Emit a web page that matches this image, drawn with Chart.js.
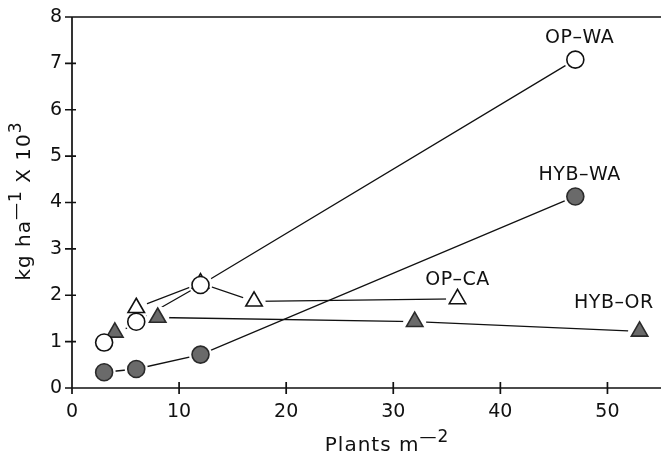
<!DOCTYPE html>
<html><head><meta charset="utf-8">
<script src="https://cdn.jsdelivr.net/npm/chart.js@4/dist/chart.umd.min.js"></script>
<style>html,body{margin:0;padding:0;background:#fff}#wrap{width:661px;height:456px}</style>
</head><body><div id="wrap"><canvas id="c" width="661" height="456"></canvas></div>
<script>
const opWaX = [3, 6, 12, 47];
const opWaY = [0.98, 1.43, 2.22, 7.08];
const hybWaX = [3, 6, 12, 47];
const hybWaY = [0.34, 0.41, 0.72, 4.13];
const opCaX = [6, 12, 17, 36];
const opCaY = [1.73, 2.26, 1.87, 1.92];
const hybOrX = [4, 8, 32, 53];
const hybOrY = [1.2, 1.52, 1.43, 1.22];
const seriesLabels = ['OP\u2013WA', 'HYB\u2013WA', 'OP\u2013CA', 'HYB\u2013OR'];
const xTicks = [0, 10, 20, 30, 40, 50];
const yTicks = [0, 1, 2, 3, 4, 5, 6, 7, 8];

const pts = (xs, ys) => xs.map((x, i) => ({x, y: ys[i]}));
const FONT = '"DejaVu Sans", "Liberation Sans", Arial, sans-serif';
const GREY = '#6a6a6a';

const allData = [pts(opWaX, opWaY), pts(hybWaX, hybWaY), pts(opCaX, opCaY), pts(hybOrX, hybOrY)];
const styles = ['circle', 'circle', 'triangle', 'triangle'];
const filled = [false, true, false, true];
const labelAnchors = [[47.4, 7.54], [47.4, 4.59], [36.0, 2.33], [50.6, 1.83]];

const datasets = [];
allData.forEach((d, k) => datasets.push({
  label: seriesLabels[k], data: d, showLine: true, borderColor: '#111', borderWidth: 1.3,
  pointRadius: 0, tension: 0, fill: false, order: 30
}));
allData.forEach((d, k) => datasets.push({
  data: d, showLine: false, pointStyle: 'circle', pointRadius: 11.5,
  pointBackgroundColor: '#fff', pointBorderWidth: 0, order: 20
}));
allData.forEach((d, k) => datasets.push({
  data: d, showLine: false, pointStyle: styles[k],
  pointRadius: styles[k] === 'triangle' ? 9.5 : 8.5,
  pointBackgroundColor: filled[k] ? GREY : '#fff',
  pointBorderColor: filled[k] ? '#2a2a2a' : '#111', pointBorderWidth: 1.6, order: 10
}));

function supText(ctx, parts, x, y) {
  const base = '20px ' + FONT, sup = '17px ' + FONT;
  ctx.letterSpacing = '1px';
  let w = 0;
  parts.forEach(p => { ctx.font = p[1] ? sup : base; w += ctx.measureText(p[0]).width; });
  let cx = x - w / 2;
  ctx.textAlign = 'left';
  ctx.textBaseline = 'alphabetic';
  parts.forEach(p => {
    ctx.font = p[1] ? sup : base;
    ctx.fillText(p[0], cx, p[1] ? y - 9 : y);
    cx += ctx.measureText(p[0]).width;
  });
  ctx.letterSpacing = '0px';
}

const deco = {
  id: 'deco',
  afterDraw(chart) {
    const {ctx, chartArea: a, scales: {x, y}} = chart;
    ctx.save();
    ctx.strokeStyle = '#111';
    ctx.lineWidth = 1.7;
    ctx.beginPath();
    ctx.moveTo(a.left, a.top); ctx.lineTo(chart.width, a.top);
    ctx.moveTo(a.left, a.top); ctx.lineTo(a.left, a.bottom);
    ctx.moveTo(a.left, a.bottom); ctx.lineTo(chart.width, a.bottom);
    xTicks.forEach(v => { const px = x.getPixelForValue(v); ctx.moveTo(px, a.bottom - 6); ctx.lineTo(px, a.bottom + 6); });
    yTicks.forEach(v => { const py = y.getPixelForValue(v); ctx.moveTo(a.left - 7, py); ctx.lineTo(a.left + 4, py); });
    ctx.stroke();
    ctx.fillStyle = '#111';
    ctx.font = '19px ' + FONT;
    ctx.letterSpacing = '0.5px';
    ctx.textAlign = 'center';
    ctx.textBaseline = 'middle';
    labelAnchors.forEach((p, k) => {
      ctx.fillText(seriesLabels[k], x.getPixelForValue(p[0]), y.getPixelForValue(p[1]));
    });
    ctx.letterSpacing = '0px';
    supText(ctx, [['Plants m', false], ['\u20142', true]], 387, 451);
    ctx.save();
    ctx.translate(30, 201);
    ctx.rotate(-Math.PI / 2);
    supText(ctx, [['kg ha', false], ['\u20141', true], [' X 10', false], ['3', true]], 0, 0);
    ctx.restore();
    ctx.restore();
  }
};

new Chart(document.getElementById('c'), {
  type: 'scatter',
  data: { datasets },
  options: {
    responsive: false, animation: false,
    layout: {autoPadding: false, padding: {top: 17, right: 0, left: 0, bottom: 0}},
    plugins: {legend: {display: false}, tooltip: {enabled: false}},
    scales: {
      x: {
        type: 'linear', min: 0, max: 55,
        afterBuildTicks: s => { s.ticks = xTicks.map(v => ({value: v})); },
        afterFit: s => { s.height = 68; s.paddingLeft = 0; s.paddingRight = 0; },
        grid: {display: false, drawTicks: false},
        border: {display: false},
        ticks: {color: '#111', font: {family: FONT, size: 19}, padding: 13}
      },
      y: {
        type: 'linear', min: 0, max: 8,
        afterBuildTicks: s => { s.ticks = yTicks.map(v => ({value: v})); },
        afterFit: s => { s.width = 72; s.paddingTop = 0; s.paddingBottom = 0; },
        grid: {display: false, drawTicks: false},
        border: {display: false},
        ticks: {color: '#111', font: {family: FONT, size: 19}, padding: 10}
      }
    }
  },
  plugins: [deco]
});
</script></body></html>
